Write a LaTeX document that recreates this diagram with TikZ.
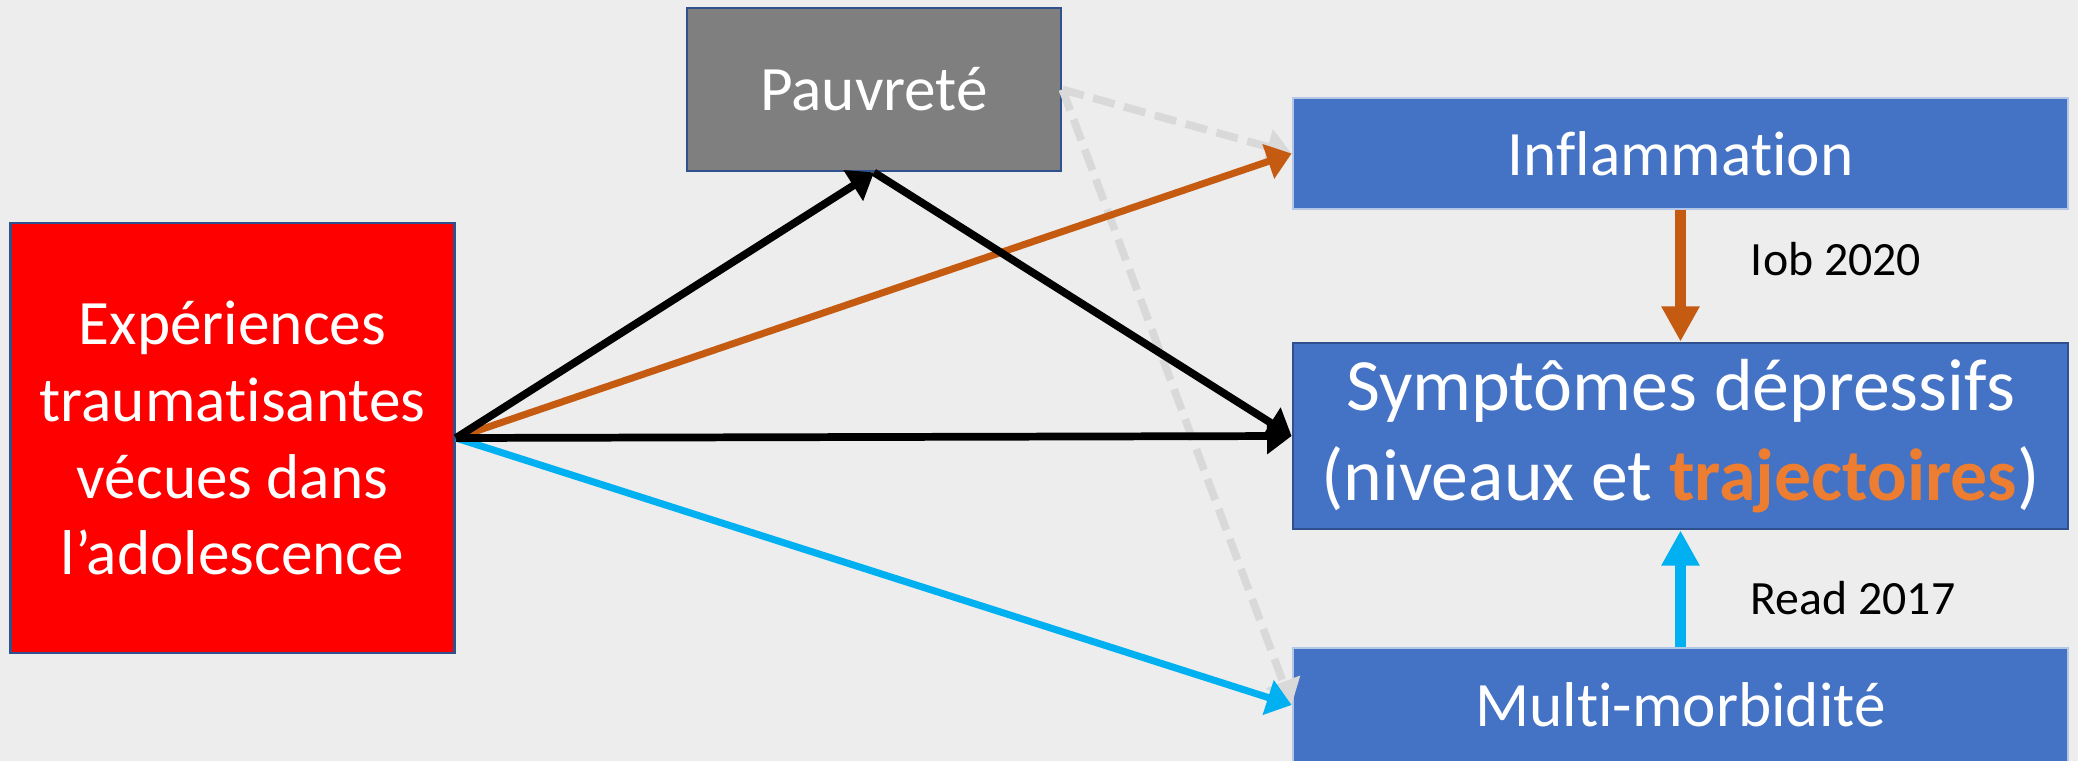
\documentclass[tikz,border=0pt]{standalone}
\usepackage{fontspec}
\setmainfont{Carlito}[Ligatures=NoCommon]
\usetikzlibrary{arrows.meta}
\definecolor{BoxBlue}{HTML}{4472C4}
\definecolor{EdgeBlue}{HTML}{2F528F}
\definecolor{EdgeLight}{HTML}{B4C7E7}
\definecolor{BoxGray}{HTML}{7F7F7F}
\definecolor{PathOrange}{HTML}{C55A11}
\definecolor{PathCyan}{HTML}{00B0F0}
\definecolor{TrajOrange}{HTML}{ED7D31}
\definecolor{DashGray}{HTML}{D9D9D9}
\definecolor{PageGray}{HTML}{EDEDED}

\begin{document}
\begin{tikzpicture}[x=.1mm,y=-.1mm,
  box/.style={draw=EdgeBlue,line width=.8pt,inner sep=0pt,text=white,align=center,
    minimum width=77.5mm,font=\fontsize{18}{21.9}\selectfont},
  link/.style={-{Triangle[length=7pt,width=10pt]},line width=2.2pt},
  fat/.style={-{Triangle[length=10pt,width=10.2pt]},line width=3.4pt},
  ref/.style={font=\fontsize{13.6}{16}\selectfont}]
  \useasboundingbox (0,0) rectangle (2078,761);
  \fill[PageGray] (0,0) rectangle (2078,761);

  \node[box,fill=red,minimum width=44.4mm,minimum height=43mm] (exp) at (232.5,438)
    {Expériences\\traumatisantes\\vécues dans\\l’adolescence};
  \node[box,fill=BoxGray,minimum width=37.4mm,minimum height=16.3mm] (pauv) at (874,89.5) {Pauvreté};
  \node[box,fill=BoxBlue,draw=EdgeLight,minimum height=11.1mm] (infl) at (1680.5,153.5) {Inflammation};
  \node[box,fill=BoxBlue,minimum height=18.6mm,font=\fontsize{21}{25.6}\selectfont] (symp) at (1680.5,436)
    {Symptômes dépressifs\\(niveaux et \textcolor{TrajOrange}{\bfseries trajectoires})};
  \node[box,fill=BoxBlue,draw=EdgeLight,minimum height=11.4mm] (multi) at (1680.5,705) {Multi-morbidité};

  % paths through poverty (not significant)
  \draw[link,DashGray,dash pattern=on 6.3pt off 2.8pt] (pauv.east) -- (infl.west);
  \draw[link,DashGray,dash pattern=on 6.3pt off 2.8pt] (pauv.east) -- (multi.west);

  \draw[link,PathOrange,line width=2pt] (exp.east) -- (infl.west);
  \draw[link,PathCyan,line width=2pt] (exp.east) -- (multi.west);
  \draw[link] (exp.east) -- (pauv.south);
  \draw[link] (pauv.south) -- (symp.west);
  \draw[link] (exp.east) -- (symp.west);

  \draw[fat,PathOrange] (infl.south) -- (symp.north);
  \draw[fat,PathCyan] (multi.north) -- (symp.south);
  \node[ref] (iob) at (1836,259) {Iob 2020};
  \node[ref] (read) at (1853,598) {Read 2017};
\end{tikzpicture}
\end{document}
